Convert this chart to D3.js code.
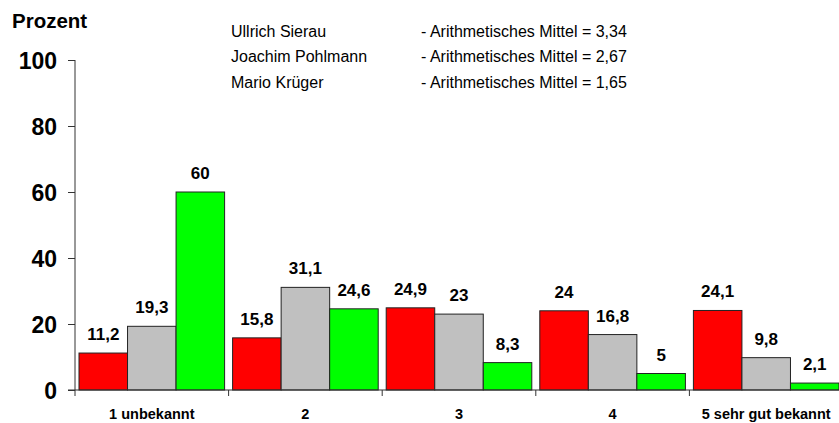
<!DOCTYPE html>
<html>
<head>
<meta charset="utf-8">
<script src="https://cdn.jsdelivr.net/npm/d3@7"></script>
<style>
  body { margin: 0; background: white; }
  text { font-family: Arial, "Liberation Sans", sans-serif; }
</style>
</head>
<body>
<script>
let width, height, svg, xScale, innerScale, yScale;
width = 839;
height = 423;

// data
const categories = ['1 unbekannt', '2', '3', '4', '5 sehr gut bekannt'];
const seriesNames = ['Ullrich Sierau', 'Joachim Pohlmann', 'Mario Krüger'];
const seriesNotes = ['- Arithmetisches Mittel = 3,34', '- Arithmetisches Mittel = 2,67', '- Arithmetisches Mittel = 1,65'];
const sierau = [11.2, 15.8, 24.9, 24, 24.1];
const pohlmann = [19.3, 31.1, 23, 16.8, 9.8];
const krueger = [60, 24.6, 8.3, 5, 2.1];
const yTicks = [0, 20, 40, 60, 80, 100];
const colors = ['#ff0000', '#c0c0c0', '#00ff00'];

const series = [sierau, pohlmann, krueger];
const fmt = v => String(v).replace('.', ',');

svg = d3.select('body')
        .append('svg')
        .attr('width', width)
        .attr('height', height)
        .style('background-color', 'white')

xScale = d3.scaleBand()
            .domain(categories)
            .range([75, 843])
            .paddingInner(0)
            .paddingOuter(0)

innerScale = d3.scaleBand()
            .domain([0, 1, 2])
            .range([4, xScale.bandwidth() - 4])

yScale = d3.scaleLinear()
            .domain([0, 100])
            .range([390, 60])

// y axis
let yAxis = d3.axisLeft(yScale).tickValues(yTicks).tickSize(7).tickFormat(d3.format('d'))
let gy = svg.append('g')
    .attr('transform', 'translate(75,0)')
    .call(yAxis)
gy.select('.domain').attr('stroke', '#333').attr('d', 'M0,60V390')
gy.selectAll('.tick line').attr('stroke', '#333')
gy.selectAll('.tick text')
    .attr('x', -18)
    .attr('dy', '0.36em')
    .style('font-size', '23px')
    .style('font-weight', 'bold')
    .attr('fill', '#000')

// bars
categories.forEach((c, ci) => {
    svg.append('g')
        .selectAll('rect')
        .data(series.map((s, si) => ({ si: si, v: s[ci] })))
        .enter()
        .append('rect')
        .attr('x', d => xScale(c) + innerScale(d.si))
        .attr('y', d => yScale(d.v))
        .attr('width', innerScale.bandwidth())
        .attr('height', d => yScale(0) - yScale(d.v))
        .attr('fill', d => colors[d.si])
        .attr('stroke', '#222')
        .attr('stroke-width', 1)

    svg.append('g')
        .selectAll('text')
        .data(series.map((s, si) => ({ si: si, v: s[ci] })))
        .enter()
        .append('text')
        .attr('x', d => xScale(c) + innerScale(d.si) + innerScale.bandwidth() / 2)
        .attr('y', d => yScale(d.v) - 13)
        .attr('text-anchor', 'middle')
        .style('font-size', '17px')
        .style('font-weight', 'bold')
        .text(d => fmt(d.v))
})

// x axis
let xAxis = d3.axisBottom(xScale).tickSize(0).tickFormat(d => d)
let gx = svg.append('g')
    .attr('transform', 'translate(0,390)')
    .call(xAxis)
gx.select('.domain').attr('stroke', '#333').attr('d', 'M68,0H843')
gx.selectAll('.tick text')
    .attr('y', 29)
    .attr('dy', 0)
    .style('font-size', '14.5px')
    .style('font-weight', 'bold')
    .attr('fill', '#000')
gx.selectAll('.sep')
    .data(categories)
    .enter()
    .append('line')
    .attr('class', 'sep')
    .attr('x1', d => xScale(d))
    .attr('x2', d => xScale(d))
    .attr('y1', 0)
    .attr('y2', 6)
    .attr('stroke', '#333')

// title
svg.append('text')
    .attr('x', 12)
    .attr('y', 28)
    .style('font-size', '20.5px')
    .style('font-weight', 'bold')
    .text('Prozent')

// legend (text only)
let legend = svg.append('g')
legend.selectAll('.name')
    .data(seriesNames)
    .enter()
    .append('text')
    .attr('x', 231)
    .attr('y', (d, i) => 37 + i * 25.3)
    .style('font-size', '16px')
    .text(d => d)
legend.selectAll('.note')
    .data(seriesNotes)
    .enter()
    .append('text')
    .attr('x', 421)
    .attr('y', (d, i) => 37 + i * 25.3)
    .style('font-size', '16px')
    .text(d => d)
</script>
</body>
</html>
